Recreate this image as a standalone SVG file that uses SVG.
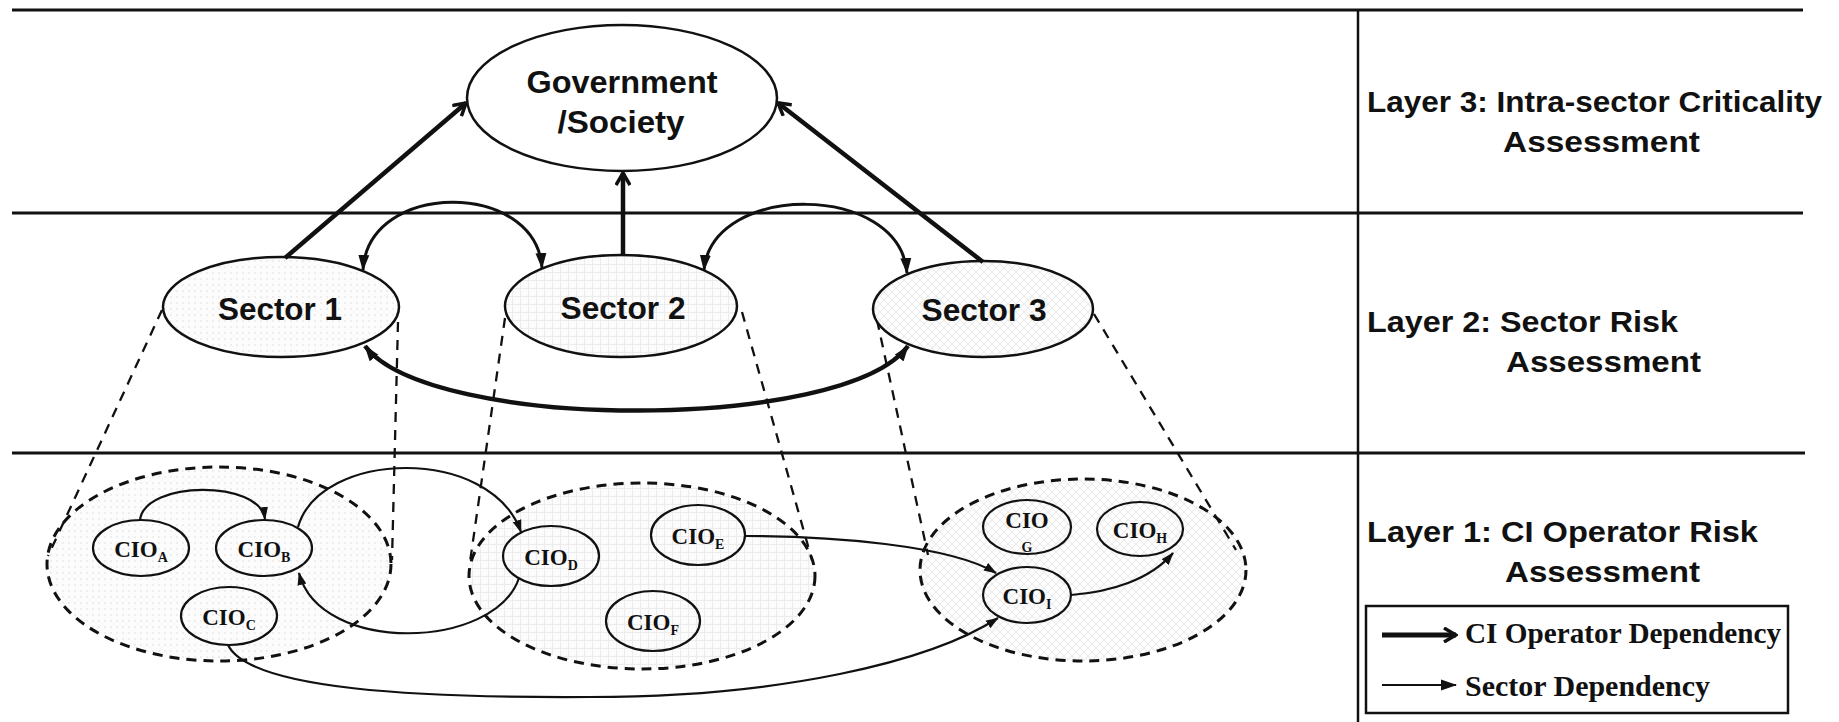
<svg xmlns="http://www.w3.org/2000/svg" width="1839" height="722" viewBox="0 0 1839 722">
<style>
.frame{stroke:#111;stroke-width:3;fill:none}
.node{stroke:#111;stroke-width:2.5}
.cio{stroke:#111;stroke-width:2.2}
.grp{stroke:#111;stroke-width:3;stroke-dasharray:10 7}
.proj{stroke:#111;stroke-width:2.3;stroke-dasharray:10 8;fill:none}
.thick{stroke:#111;stroke-width:4.5;fill:none}
.sect{stroke:#111;stroke-width:3;fill:none}
.thin{stroke:#111;stroke-width:2.2;fill:none}
.sans{font-family:"Liberation Sans",Arial,sans-serif;font-weight:bold;fill:#111}
.serif{font-family:"Liberation Serif","Times New Roman",serif;font-weight:bold;fill:#111}
</style>
<defs>
<pattern id="dots" width="6" height="6" patternUnits="userSpaceOnUse"><rect width="6" height="6" fill="#fcfcfc"/><circle cx="3" cy="3" r="0.8" fill="#dedede"/></pattern>
<pattern id="grid" width="8" height="8" patternUnits="userSpaceOnUse"><rect width="8" height="8" fill="#fcfcfc"/><path d="M0 0.5H8M0.5 0V8" stroke="#ececec" stroke-width="1"/></pattern>
<pattern id="cross" width="8" height="8" patternUnits="userSpaceOnUse"><rect width="8" height="8" fill="#fcfcfc"/><path d="M0 0L8 8M8 0L0 8" stroke="#eaeaea" stroke-width="1"/></pattern>
<marker id="chev" viewBox="0 0 16 16" refX="14" refY="8" markerWidth="16" markerHeight="16" markerUnits="userSpaceOnUse" orient="auto-start-reverse"><path d="M2 1L14 8L2 15" fill="none" stroke="#111" stroke-width="3.5"/></marker>
<marker id="tri" viewBox="0 0 16 12" refX="15" refY="6" markerWidth="16" markerHeight="12" markerUnits="userSpaceOnUse" orient="auto-start-reverse"><path d="M0 0.5L16 6L0 11.5z" fill="#111"/></marker>
<marker id="tris" viewBox="0 0 13 10" refX="12" refY="5" markerWidth="13" markerHeight="10" markerUnits="userSpaceOnUse" orient="auto-start-reverse"><path d="M0 0.5L13 5L0 9.5z" fill="#111"/></marker>
</defs>
<rect width="1839" height="722" fill="#fff"/>

<g id="frame">
<line class="frame" x1="12" y1="10" x2="1803" y2="10"/>
<line class="frame" x1="12" y1="213" x2="1803" y2="213"/>
<line class="frame" x1="12" y1="453" x2="1805" y2="453"/>
<line class="frame" x1="1358" y1="10" x2="1358" y2="722" style="stroke-width:2.5"/>
</g>

<g id="group1"><ellipse class="grp" cx="219" cy="564" rx="172" ry="97" fill="url(#dots)"/></g>
<g id="group2"><ellipse class="grp" cx="642" cy="576" rx="173" ry="93" fill="url(#grid)"/></g>
<g id="group3"><ellipse class="grp" cx="1083" cy="570" rx="163" ry="91" fill="url(#cross)"/></g>

<g id="projections">
<path class="proj" d="M162 310 L48 556"/>
<path class="proj" d="M398 322 L392 560"/>
<path class="proj" d="M505 318 L470 562"/>
<path class="proj" d="M742 312 L812 560"/>
<path class="proj" d="M877 320 L928 555"/>
<path class="proj" d="M1094 314 L1236 550"/>
</g>

<g id="gov">
<ellipse class="node" cx="622" cy="98" rx="155" ry="73" fill="#fff"/>
<text class="sans" x="622" y="93" font-size="32" text-anchor="middle" textLength="191" lengthAdjust="spacingAndGlyphs">Government</text>
<text class="sans" x="621" y="133" font-size="32" text-anchor="middle" textLength="127" lengthAdjust="spacingAndGlyphs">/Society</text>
</g>
<g id="sector1">
<ellipse class="node" cx="281" cy="307" rx="118" ry="50" fill="url(#dots)"/>
<text class="sans" x="280" y="320" font-size="31" text-anchor="middle" textLength="124" lengthAdjust="spacingAndGlyphs">Sector 1</text>
</g>
<g id="sector2">
<ellipse class="node" cx="621" cy="306" rx="116" ry="51" fill="url(#grid)"/>
<text class="sans" x="623" y="319" font-size="31" text-anchor="middle" textLength="125" lengthAdjust="spacingAndGlyphs">Sector 2</text>
</g>
<g id="sector3">
<ellipse class="node" cx="983" cy="309" rx="110" ry="48" fill="url(#cross)"/>
<text class="sans" x="984" y="321" font-size="31" text-anchor="middle" textLength="125" lengthAdjust="spacingAndGlyphs">Sector 3</text>
</g>

<g id="cioA"><ellipse class="cio" cx="141" cy="548" rx="48" ry="28" fill="url(#dots)"/><text class="serif" x="141" y="557" font-size="23" text-anchor="middle">CIO<tspan font-size="14" dy="5">A</tspan></text></g>
<g id="cioB"><ellipse class="cio" cx="264" cy="548" rx="48" ry="28" fill="url(#dots)"/><text class="serif" x="264" y="557" font-size="23" text-anchor="middle">CIO<tspan font-size="14" dy="5">B</tspan></text></g>
<g id="cioC"><ellipse class="cio" cx="229" cy="616" rx="48" ry="29" fill="url(#dots)"/><text class="serif" x="229" y="625" font-size="23" text-anchor="middle">CIO<tspan font-size="14" dy="5">C</tspan></text></g>
<g id="cioD"><ellipse class="cio" cx="551" cy="556" rx="48" ry="30" fill="url(#grid)"/><text class="serif" x="551" y="565" font-size="23" text-anchor="middle">CIO<tspan font-size="14" dy="5">D</tspan></text></g>
<g id="cioE"><ellipse class="cio" cx="698" cy="535" rx="47" ry="30" fill="url(#grid)"/><text class="serif" x="698" y="544" font-size="23" text-anchor="middle">CIO<tspan font-size="14" dy="5">E</tspan></text></g>
<g id="cioF"><ellipse class="cio" cx="653" cy="621" rx="47" ry="30" fill="url(#grid)"/><text class="serif" x="653" y="630" font-size="23" text-anchor="middle">CIO<tspan font-size="14" dy="5">F</tspan></text></g>
<g id="cioG"><ellipse class="cio" cx="1027" cy="527" rx="44" ry="27" fill="url(#cross)"/><text class="serif" font-size="23" text-anchor="middle"><tspan x="1027" y="528">CIO</tspan><tspan x="1027" y="552" font-size="14">G</tspan></text></g>
<g id="cioH"><ellipse class="cio" cx="1140" cy="529" rx="43" ry="27" fill="url(#cross)"/><text class="serif" x="1140" y="538" font-size="23" text-anchor="middle">CIO<tspan font-size="14" dy="5">H</tspan></text></g>
<g id="cioI"><ellipse class="cio" cx="1027" cy="595" rx="44" ry="28" fill="url(#cross)"/><text class="serif" x="1027" y="604" font-size="23" text-anchor="middle">CIO<tspan font-size="14" dy="5">I</tspan></text></g>

<g id="connectors">
<path class="thick" d="M285 258 L466 103" marker-end="url(#chev)"/>
<path class="thick" d="M623 256 L623 173" marker-end="url(#chev)"/>
<path class="thick" d="M983 262 L778 103" marker-end="url(#chev)"/>
<path class="sect" d="M363 270 C368 180, 536 180, 542 268" marker-start="url(#tri)" marker-end="url(#tri)"/>
<path class="sect" d="M704 270 C712 182, 900 182, 907 273" marker-start="url(#tri)" marker-end="url(#tri)"/>
<path class="thick" d="M365 346 C430 432, 845 432, 908 346" marker-start="url(#tri)" marker-end="url(#tri)"/>
<path class="thin" d="M140 520 C145 480, 260 480, 265 519" marker-end="url(#tris)"/>
<path class="thin" d="M298 527 C320 450, 490 445, 521 532" marker-end="url(#tris)"/>
<path class="thin" d="M519 578 C495 650, 320 655, 299 573" marker-end="url(#tris)"/>
<path class="thin" d="M745 536 C830 536, 950 545, 996 573" marker-end="url(#tris)"/>
<path class="thin" d="M228 645 C250 690, 420 698, 590 697 C780 697, 930 662, 998 618" marker-end="url(#tris)"/>
<path class="thin" d="M1071 595 C1110 592, 1150 580, 1173 553" marker-end="url(#tris)"/>
</g>

<g id="layer3">
<text class="sans" x="1367" y="112" font-size="29" textLength="455" lengthAdjust="spacingAndGlyphs">Layer 3: Intra-sector Criticality</text>
<text class="sans" x="1503" y="152" font-size="29" textLength="197" lengthAdjust="spacingAndGlyphs">Assessment</text>
</g>
<g id="layer2">
<text class="sans" x="1367" y="332" font-size="29" textLength="311" lengthAdjust="spacingAndGlyphs">Layer 2: Sector Risk</text>
<text class="sans" x="1506" y="372" font-size="29" textLength="195" lengthAdjust="spacingAndGlyphs">Assessment</text>
</g>
<g id="layer1">
<text class="sans" x="1367" y="542" font-size="29" textLength="391" lengthAdjust="spacingAndGlyphs">Layer 1: CI Operator Risk</text>
<text class="sans" x="1505" y="582" font-size="29" textLength="195" lengthAdjust="spacingAndGlyphs">Assessment</text>
</g>

<g id="legend">
<rect x="1366" y="606" width="422" height="107" fill="#fff" stroke="#111" stroke-width="2.5"/>
<path class="thick" d="M1382 635 L1456 635" style="stroke-width:5" marker-end="url(#chev)"/>
<text class="serif" x="1465" y="643" font-size="30" textLength="316" lengthAdjust="spacingAndGlyphs">CI Operator Dependency</text>
<path class="thin" d="M1382 685 L1456 685" marker-end="url(#tri)"/>
<text class="serif" x="1465" y="696" font-size="30" textLength="245" lengthAdjust="spacingAndGlyphs">Sector Dependency</text>
</g>
</svg>
